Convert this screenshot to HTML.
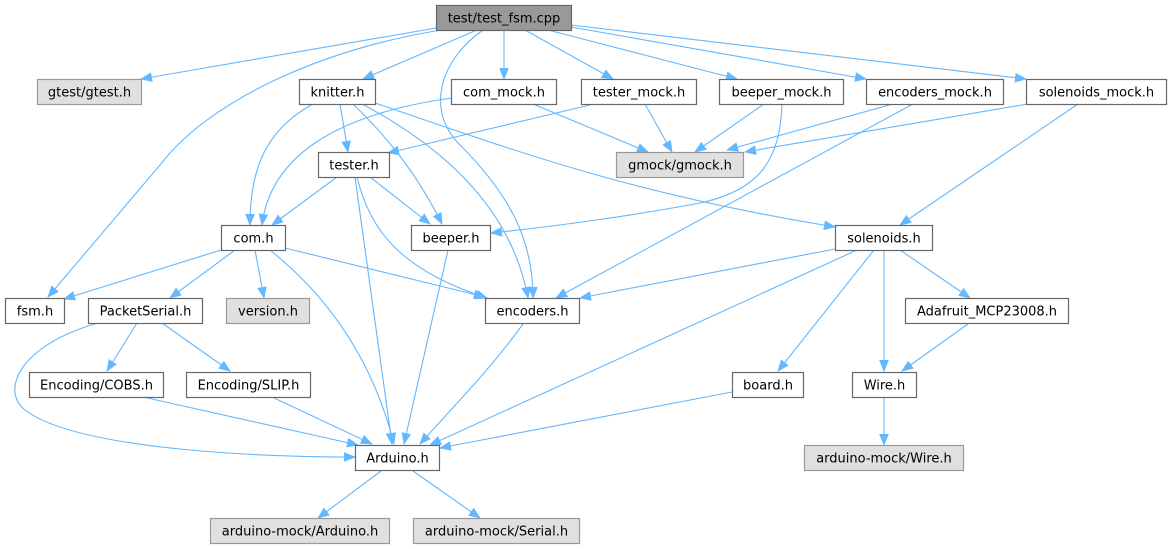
<!DOCTYPE html>
<html>
<head>
<meta charset="utf-8">
<style>
  html, body { margin: 0; padding: 0; background: #ffffff; }
  svg { display: block; }
  text { font-family: "DejaVu Sans", "Liberation Sans", sans-serif; font-size: 13px; fill: #000; }
</style>
</head>
<body>
<svg width="1171" height="549" viewBox="0 0 1171 549" xmlns="http://www.w3.org/2000/svg">
  <defs>
    <marker id="ah" markerUnits="userSpaceOnUse" markerWidth="14" markerHeight="12" refX="11" refY="5" orient="auto">
      <path d="M0,0.6 L11,5 L0,9.4 z" fill="#63b8ff" stroke="#63b8ff" stroke-width="0.8"/>
    </marker>
  </defs>

  <g fill="none" stroke="#63b8ff" stroke-width="1.1" marker-end="url(#ah)">
    <!-- from test/test_fsm.cpp -->
    <path d="M436,28 L141,79"/>
    <path d="M441,30 C 320,50 210,100 160,165 L 48,297"/>
    <path d="M477,30 L363,79"/>
    <path d="M504,30 L504,79"/>
    <path d="M525,30 L613,79"/>
    <path d="M548,30 L737,79"/>
    <path d="M571,27 L866,79"/>
    <path d="M571,25 L1026,79"/>
    <path d="M483,30 C 440,60 425,110 460,145 C 510,195 533,240 533,298"/>
    <!-- knitter.h -->
    <path d="M340,104 L348,152"/>
    <path d="M313,104 C 265,130 250,170 250,225"/>
    <path d="M353,104 C 385,135 415,170 442,224"/>
    <path d="M362,104 C 430,140 510,200 528,298"/>
    <path d="M375,103 C 500,145 620,192 835,227"/>
    <!-- com_mock.h -->
    <path d="M452,98 C 330,115 270,160 262,225"/>
    <path d="M533,104 L648,152"/>
    <!-- tester_mock.h -->
    <path d="M590,105 L388,153"/>
    <path d="M645,104 L672,152"/>
    <!-- beeper_mock.h -->
    <path d="M764,104 L695,152"/>
    <path d="M782,104 C 780,160 760,190 700,203 C 620,218 540,228 491,233"/>
    <!-- encoders_mock.h -->
    <path d="M893,104 L727,150"/>
    <path d="M913,104 L556,298"/>
    <!-- solenoids_mock.h -->
    <path d="M1028,104 L745,152"/>
    <path d="M1078,104 L900,225"/>
    <!-- tester.h -->
    <path d="M337,177 L272,225"/>
    <path d="M370,177 L430,224"/>
    <path d="M357,177 C 370,230 400,270 487,298"/>
    <path d="M355,177 L392,444"/>
    <!-- com.h -->
    <path d="M221,250 L64,299"/>
    <path d="M235,250 L170,298"/>
    <path d="M255,250 L264,298"/>
    <path d="M285,248 L485,297"/>
    <path d="M270,250 C 320,290 370,350 394,444"/>
    <!-- beeper.h -->
    <path d="M448,250 L404,444"/>
    <!-- encoders.h -->
    <path d="M523,324 C 490,370 450,410 420,444"/>
    <!-- solenoids.h -->
    <path d="M835,249 L580,298"/>
    <path d="M857,250 L430,445"/>
    <path d="M874,250 L778,371"/>
    <path d="M884,250 L884,371"/>
    <path d="M900,250 L970,298"/>
    <!-- Adafruit -->
    <path d="M968,324 L902,371"/>
    <!-- Wire.h -->
    <path d="M884,397 L884,445"/>
    <!-- board.h -->
    <path d="M732,392 L440,448"/>
    <!-- PacketSerial.h -->
    <path d="M137,323 L107,371"/>
    <path d="M162,323 L230,371"/>
    <path d="M98,323 C 20,345 0,390 25,410 C 80,452 280,457 355,457"/>
    <!-- Encoding -->
    <path d="M143,397 L358,445"/>
    <path d="M272,397 L372,444"/>
    <!-- Arduino.h -->
    <path d="M381,471 L318,518"/>
    <path d="M413,471 L480,518"/>
  </g>

  <!-- Nodes -->
  <g stroke-width="1.2">
    <rect x="436.5" y="5.5" width="135" height="25" fill="#999999" stroke="#666666"/>
    <rect x="37.5" y="79.5" width="104" height="25" fill="#e0e0e0" stroke="#999999"/>
    <rect x="299.5" y="79.5" width="76" height="25" fill="#ffffff" stroke="#666666"/>
    <rect x="451.5" y="79.5" width="105" height="25" fill="#ffffff" stroke="#666666"/>
    <rect x="581.5" y="79.5" width="115" height="25" fill="#ffffff" stroke="#666666"/>
    <rect x="719.5" y="79.5" width="124" height="25" fill="#ffffff" stroke="#666666"/>
    <rect x="866.5" y="79.5" width="137" height="25" fill="#ffffff" stroke="#666666"/>
    <rect x="1026.5" y="79.5" width="140" height="25" fill="#ffffff" stroke="#666666"/>
    <rect x="318.5" y="152.5" width="71" height="25" fill="#ffffff" stroke="#666666"/>
    <rect x="616.5" y="152.5" width="127" height="25" fill="#e0e0e0" stroke="#999999"/>
    <rect x="221.5" y="225.5" width="64" height="25" fill="#ffffff" stroke="#666666"/>
    <rect x="411.5" y="225.5" width="79" height="25" fill="#ffffff" stroke="#666666"/>
    <rect x="835.5" y="225.5" width="97" height="25" fill="#ffffff" stroke="#666666"/>
    <rect x="5.5" y="298.5" width="59" height="25" fill="#ffffff" stroke="#666666"/>
    <rect x="88.5" y="298.5" width="114" height="25" fill="#ffffff" stroke="#666666"/>
    <rect x="226.5" y="298.5" width="83" height="25" fill="#e0e0e0" stroke="#999999"/>
    <rect x="485.5" y="298.5" width="94" height="25" fill="#ffffff" stroke="#666666"/>
    <rect x="905.5" y="298.5" width="163" height="25" fill="#ffffff" stroke="#666666"/>
    <rect x="29.5" y="372.5" width="134" height="25" fill="#ffffff" stroke="#666666"/>
    <rect x="186.5" y="372.5" width="124" height="25" fill="#ffffff" stroke="#666666"/>
    <rect x="732.5" y="372.5" width="71" height="25" fill="#ffffff" stroke="#666666"/>
    <rect x="852.5" y="372.5" width="64" height="25" fill="#ffffff" stroke="#666666"/>
    <rect x="355.5" y="445.5" width="84" height="25" fill="#ffffff" stroke="#666666"/>
    <rect x="804.5" y="445.5" width="159" height="25" fill="#e0e0e0" stroke="#999999"/>
    <rect x="210.5" y="518.5" width="179" height="25" fill="#e0e0e0" stroke="#999999"/>
    <rect x="413.5" y="518.5" width="166" height="25" fill="#e0e0e0" stroke="#999999"/>
  </g>

  <g text-anchor="middle">
    <text x="504" y="22.5">test/test_fsm.cpp</text>
    <text x="89.5" y="96.5">gtest/gtest.h</text>
    <text x="337.5" y="96.5">knitter.h</text>
    <text x="504" y="96.5">com_mock.h</text>
    <text x="639" y="96.5">tester_mock.h</text>
    <text x="781.5" y="96.5">beeper_mock.h</text>
    <text x="935" y="96.5">encoders_mock.h</text>
    <text x="1096.5" y="96.5">solenoids_mock.h</text>
    <text x="354" y="169.5">tester.h</text>
    <text x="680" y="169.5">gmock/gmock.h</text>
    <text x="253.5" y="242.5">com.h</text>
    <text x="451" y="242.5">beeper.h</text>
    <text x="884" y="242.5">solenoids.h</text>
    <text x="35" y="315.5">fsm.h</text>
    <text x="145.5" y="315.5">PacketSerial.h</text>
    <text x="268" y="315.5">version.h</text>
    <text x="532.5" y="315.5">encoders.h</text>
    <text x="987" y="315.5">Adafruit_MCP23008.h</text>
    <text x="96.5" y="389.5">Encoding/COBS.h</text>
    <text x="248.5" y="389.5">Encoding/SLIP.h</text>
    <text x="768" y="389.5">board.h</text>
    <text x="884.5" y="389.5">Wire.h</text>
    <text x="397.5" y="462.5">Arduino.h</text>
    <text x="884" y="462.5">arduino-mock/Wire.h</text>
    <text x="300" y="535.5">arduino-mock/Arduino.h</text>
    <text x="496.5" y="535.5">arduino-mock/Serial.h</text>
  </g>
</svg>
</body>
</html>
